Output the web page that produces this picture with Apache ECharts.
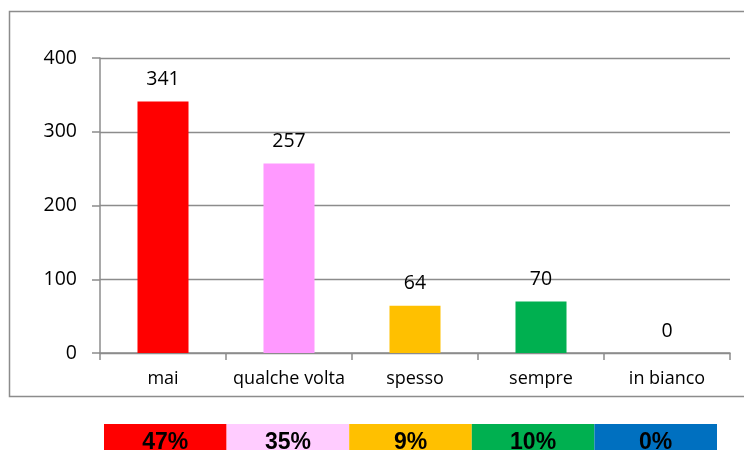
<!DOCTYPE html>
<html lang="it">
<head>
    <meta charset="UTF-8">
    <title>Grafico</title>
    <style>
        *{
            margin:0;
            padding:0;
            box-sizing:border-box;
        }
        html, body{
            width:744px;
            height:450px;
            background:#fff;
            overflow:hidden;
        }
        #myChart{
            width:744px;
            height:450px;
        }
    </style>
</head>
<body>
<div id="myChart"></div>
<script src="https://cdn.jsdelivr.net/npm/echarts@6/dist/echarts.min.js"></script>
<script>
    // dati
    var categories = ['mai', 'qualche volta', 'spesso', 'sempre', 'in bianco'];
    var values = [341, 257, 64, 70, 0];
    var barColors = ['#FF0000', '#FF99FF', '#FFC000', '#00B050', '#0070C0'];
    var percentLabels = ['47%', '35%', '9%', '10%', '0%'];
    var stripColors = ['#FF0000', '#FFCCFF', '#FFC000', '#00B050', '#0070C0'];
    var yTicks = [0, 100, 200, 300, 400];

    var font = '"Open Sans", "Noto Sans", sans-serif';
    var gray = '#8c8c8c';

    var myChart = echarts.init(document.getElementById('myChart'));
    var option = {
        animation:false,
        graphic:[
            {
                type:'rect',
                shape:{x:9.5, y:11.5, width:745, height:385},
                style:{fill:'none', stroke:gray, lineWidth:1.5},
                silent:true
            }
        ],
        grid:[
            {left:100, top:58, width:630, height:295},
            {left:104, top:424, width:613, height:32}
        ],
        xAxis:[
            {
                type:'category',
                gridIndex:0,
                data:categories,
                axisLine:{lineStyle:{color:gray, width:1.5}},
                axisTick:{show:true, length:7, lineStyle:{color:gray, width:1.5}},
                axisLabel:{color:'#000', fontSize:18, fontFamily:font, margin:17, interval:0}
            },
            {
                type:'category',
                gridIndex:1,
                data:percentLabels,
                show:false
            }
        ],
        yAxis:[
            {
                type:'value',
                gridIndex:0,
                min:yTicks[0],
                max:yTicks[yTicks.length - 1],
                interval:100,
                axisLine:{show:true, lineStyle:{color:gray, width:1.5}},
                axisTick:{show:true, length:8, lineStyle:{color:gray, width:1.5}},
                splitLine:{show:true, lineStyle:{color:gray, width:1.3}},
                axisLabel:{color:'#000', fontSize:19.5, fontFamily:font, margin:23}
            },
            {
                type:'value',
                gridIndex:1,
                min:0,
                max:1,
                show:false
            }
        ],
        series:[
            {
                type:'bar',
                xAxisIndex:0,
                yAxisIndex:0,
                barWidth:'40.5%',
                data:values.map(function(v, i) {
                    return {value:v, itemStyle:{color:barColors[i]}};
                }),
                label:{
                    show:true,
                    position:'top',
                    distance:12,
                    color:'#000',
                    fontSize:19.5,
                    fontFamily:font
                }
            },
            {
                type:'bar',
                xAxisIndex:1,
                yAxisIndex:1,
                barWidth:'100%',
                barCategoryGap:0,
                data:percentLabels.map(function(p, i) {
                    return {value:1, itemStyle:{color:stripColors[i]}};
                }),
                label:{
                    show:true,
                    position:'insideTop',
                    distance:7,
                    formatter:function(p) { return percentLabels[p.dataIndex]; },
                    color:'#000',
                    fontSize:23,
                    fontWeight:'bold',
                    fontFamily:'"Liberation Sans", Arial, sans-serif'
                }
            }
        ]
    };
    myChart.setOption(option);
</script>
</body>
</html>
